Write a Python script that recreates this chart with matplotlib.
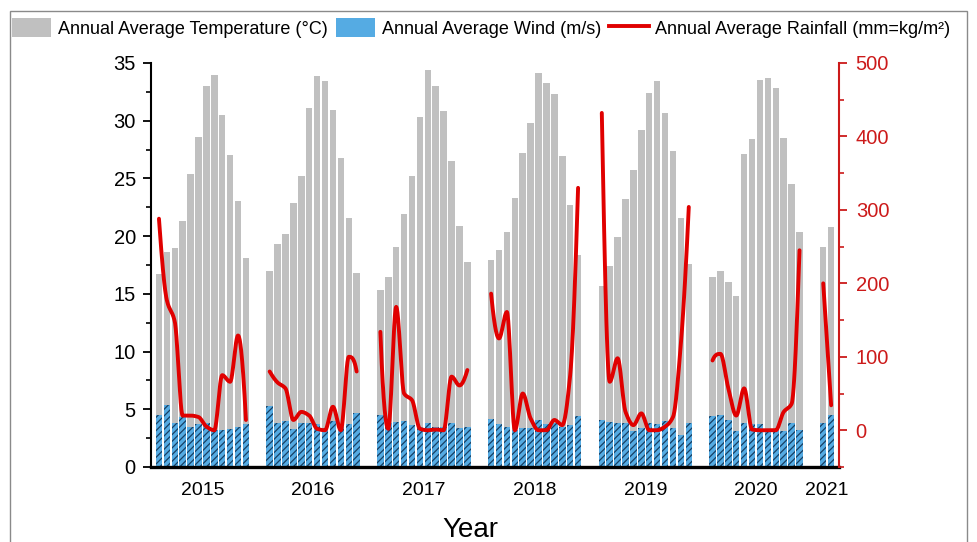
import numpy as np
import matplotlib
matplotlib.use("Agg")
import matplotlib.pyplot as plt
from matplotlib.patches import Patch, Rectangle
from matplotlib.lines import Line2D

plt.rcParams["font.family"] = ["Liberation Sans", "DejaVu Sans"]
plt.rcParams["hatch.color"] = "#173f63"
plt.rcParams["hatch.linewidth"] = 0.9

# ── data (monthly values per year) ───────────────────────────────────────────
years = ["2015", "2016", "2017", "2018", "2019", "2020", "2021"]

temperature = [
    [16.7, 18.6, 19.0, 21.3, 25.4, 28.6, 33.0, 34.0, 30.5, 27.0, 23.0, 18.1],
    [17.0, 19.3, 20.2, 22.9, 25.2, 31.1, 33.9, 33.4, 30.9, 26.8, 21.6, 16.8],
    [15.3, 16.5, 19.1, 21.9, 25.2, 30.3, 34.4, 33.0, 30.8, 26.5, 20.9, 17.8],
    [17.9, 18.8, 20.4, 23.3, 27.2, 29.8, 34.1, 33.3, 32.3, 26.9, 22.7, 18.4],
    [15.7, 17.4, 19.9, 23.2, 25.7, 29.2, 32.4, 33.4, 30.7, 27.4, 21.6, 17.6],
    [16.5, 17.0, 16.0, 14.8, 27.1, 28.4, 33.5, 33.7, 32.8, 28.5, 24.5, 20.4],
    [19.1, 20.8],
]

wind = [
    [4.5, 5.4, 3.8, 4.3, 3.5, 3.7, 3.8, 3.2, 3.2, 3.3, 3.5, 3.7],
    [5.3, 3.8, 4.0, 3.3, 3.8, 3.8, 3.7, 3.4, 4.0, 3.5, 3.7, 4.7],
    [4.5, 3.8, 3.9, 4.0, 3.6, 3.5, 3.8, 3.5, 3.5, 3.8, 3.4, 3.5],
    [4.2, 3.7, 3.5, 3.2, 3.4, 3.4, 4.1, 3.7, 3.8, 3.5, 3.6, 4.4],
    [4.1, 3.9, 3.8, 3.8, 3.1, 3.4, 3.8, 3.7, 4.0, 3.4, 2.8, 3.8],
    [4.4, 4.5, 4.1, 3.1, 3.8, 3.7, 3.7, 3.2, 3.2, 3.1, 3.8, 3.2],
    [3.8, 4.5],
]

rainfall = [
    [288, 177, 148, 20, 20, 18, 5, 0, 75, 66, 129, 14],
    [80, 65, 57, 14, 25, 20, 2, 0, 32, 0, 100, 80],
    [134, 2, 168, 50, 41, 2, 0, 1, 0, 73, 61, 82],
    [186, 125, 161, 0, 50, 16, 0, 0, 14, 7, 75, 330],
    [432, 66, 98, 25, 7, 23, 0, 0, 5, 18, 118, 304],
    [95, 104, 57, 20, 57, 1, 0, 0, 0, 25, 36, 245],
    [200, 34],
]

GRAY = "#c0c0c0"
BLUE = "#55abe3"
RED = "#e00000"
AXRED = "#cc1a1a"
SLOT = 14  # 12 months + 2 empty slots between years


def smooth(x, y, n=24):
    """shape-preserving cubic (pchip) - only to draw the line smoothly"""
    x = np.asarray(x, float); y = np.asarray(y, float)
    if len(x) < 3:
        xs = np.linspace(x[0], x[-1], n)
        return xs, np.interp(xs, x, y)
    h = np.diff(x)
    dl = np.diff(y) / h
    d = np.zeros_like(y)
    for k in range(1, len(x) - 1):
        if dl[k - 1] * dl[k] > 0:
            w1 = 2 * h[k] + h[k - 1]
            w2 = h[k] + 2 * h[k - 1]
            d[k] = (w1 + w2) / (w1 / dl[k - 1] + w2 / dl[k])
    for k, (a, b) in ((0, (0, 1)), (-1, (-1, -2))):
        e = ((2 * h[a] + h[b]) * dl[a] - h[a] * dl[b]) / (h[a] + h[b])
        if np.sign(e) != np.sign(dl[a]):
            e = 0.0
        elif np.sign(dl[a]) != np.sign(dl[b]) and abs(e) > abs(3 * dl[a]):
            e = 3 * dl[a]
        d[k] = e
    xs_all, ys_all = [], []
    for i in range(len(x) - 1):
        t = np.linspace(0, 1, n, endpoint=(i == len(x) - 2))
        h00 = 2 * t**3 - 3 * t**2 + 1
        h10 = t**3 - 2 * t**2 + t
        h01 = -2 * t**3 + 3 * t**2
        h11 = t**3 - t**2
        xs_all.append(x[i] + t * h[i])
        ys_all.append(h00 * y[i] + h10 * h[i] * d[i] + h01 * y[i + 1] + h11 * h[i] * d[i + 1])
    return np.concatenate(xs_all), np.concatenate(ys_all)


fig = plt.figure(figsize=(9.77, 5.42), dpi=100)
ax = fig.add_axes([0.1546, 0.1384, 0.7042, 0.7454])
ax2 = ax.twinx()

year_centers = []
for k, yr in enumerate(years):
    x = k * SLOT + np.arange(len(temperature[k]))
    ax.bar(x, temperature[k], width=0.82, color=GRAY, linewidth=0, zorder=1)
    ax.bar(x, wind[k], width=0.82, color=BLUE, linewidth=0, hatch="/////", zorder=2)
    xs, ys = smooth(x, rainfall[k])
    ax2.plot(xs, ys, color=RED, lw=2.8, solid_capstyle="round", solid_joinstyle="round")
    year_centers.append(x.mean())

ax.set_xlim(-1.0, 86.0)
ax.set_ylim(0, 35)
ax2.set_ylim(-50, 500)

ax.set_yticks(np.arange(0, 36, 5))
ax.set_yticks(np.arange(0, 35, 2.5), minor=True)
ax2.set_yticks(np.arange(0, 501, 100))
ax2.set_yticks(np.arange(-50, 501, 50), minor=True)
ax.set_xticks(year_centers)
ax.set_xticklabels(years)

ax.tick_params(axis="y", which="major", length=6, width=1.3, labelsize=14.5, pad=5)
ax.tick_params(axis="y", which="minor", length=3.5, width=1.2)
ax.tick_params(axis="x", length=0, labelsize=14, pad=11)
ax2.tick_params(axis="y", which="major", length=6, width=1.3, labelsize=14.5, pad=6,
                color=AXRED, labelcolor=AXRED)
ax2.tick_params(axis="y", which="minor", length=3.5, width=1.2, color=AXRED)

for a in (ax, ax2):
    a.spines["top"].set_visible(False)
ax.spines["right"].set_visible(False)
ax.spines["left"].set_linewidth(1.5)
ax.spines["bottom"].set_linewidth(2.4)
ax2.spines["left"].set_visible(False)
ax2.spines["bottom"].set_visible(False)
ax2.spines["right"].set_color(AXRED)
ax2.spines["right"].set_linewidth(1.5)

fig.text(470 / 977, 1 - 530 / 542, "Year", fontsize=20, ha="center", va="center")

handles = [
    Patch(facecolor=GRAY, edgecolor="none"),
    Patch(facecolor=BLUE, edgecolor="none", hatch="/////"),
    Line2D([], [], color=RED, lw=2.8),
]
labels = [
    "Annual Average Temperature (°C)",
    "Annual Average Wind (m/s)",
    "Annual Average Rainfall (mm=kg/m²)",
]
fig.legend(handles, labels, loc="center left", bbox_to_anchor=(8 / 977, 1 - 28 / 542),
           ncol=3, frameon=False, fontsize=13, handlelength=2.2, handleheight=1.25,
           handletextpad=0.35, columnspacing=0.45, borderpad=0.2, borderaxespad=0)

# outer frame of the figure
fig.patches.append(Rectangle((9.5 / 977, -0.05), (967 - 9.5) / 977, 1.05 - 11 / 542,
                             transform=fig.transFigure, fill=False,
                             edgecolor="#8a8a8a", linewidth=1.0))

fig.savefig("out.png", dpi=100)
